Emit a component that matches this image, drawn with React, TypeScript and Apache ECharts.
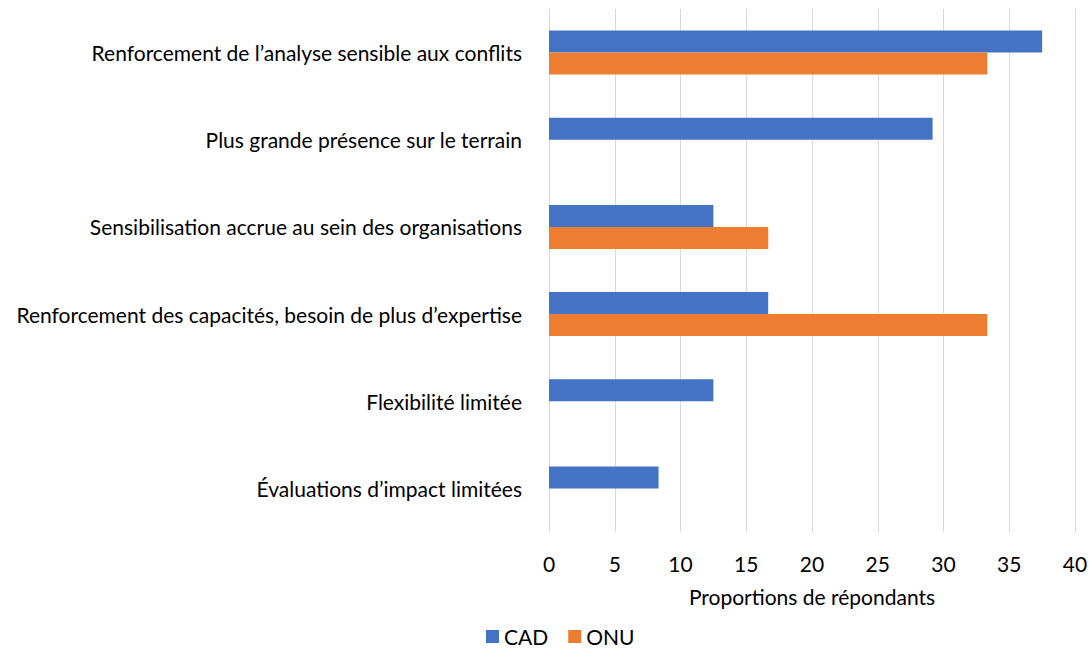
import React, { useEffect, useRef } from "react";
import * as echarts from "echarts";

const categories = [
  "Renforcement de l’analyse sensible aux conflits",
  "Plus grande présence sur le terrain",
  "Sensibilisation accrue au sein des organisations",
  "Renforcement des capacités, besoin de plus d’expertise",
  "Flexibilité limitée",
  "Évaluations d’impact limitées",
];
const cadValues = [37.5, 29.17, 12.5, 16.67, 12.5, 8.33];
const onuValues: (number | null)[] = [33.33, null, 16.67, 33.33, null, null];
const xTicks = { min: 0, max: 40, interval: 5 };

export default function App() {
  const ref = useRef<HTMLDivElement>(null);
  useEffect(() => {
    if (!ref.current) return;
    const chart = echarts.init(ref.current, undefined, { renderer: "svg" });
    const font = "Lato";
    const fs = 21;
    chart.setOption({
      animation: false,
      textStyle: { fontFamily: font },
      grid: { left: 549, right: 16, top: 9, bottom: 133, containLabel: false },
      legend: {
        bottom: 13,
        left: 481,
        icon: "rect",
        itemWidth: 13,
        itemHeight: 13,
        itemGap: 20,
        textStyle: { fontSize: fs, color: "#000", fontFamily: font },
        data: ["CAD", "ONU"],
      },
      xAxis: {
        type: "value",
        min: xTicks.min,
        max: xTicks.max,
        interval: xTicks.interval,
        name: "Proportions de répondants",
        nameLocation: "middle",
        nameGap: 54,
        nameTextStyle: { fontSize: fs, color: "#000", fontFamily: font },
        axisLine: { show: false },
        axisTick: { show: false },
        axisLabel: { fontSize: fs, color: "#000", margin: 21, fontFamily: font },
        splitLine: { show: true, lineStyle: { color: "#d9d9d9", width: 1 } },
      },
      yAxis: {
        type: "category",
        data: categories,
        inverse: true,
        axisLine: { show: false },
        axisTick: { show: false },
        axisLabel: { fontSize: fs, color: "#000", margin: 27, fontFamily: font },
      },
      series: [
        {
          name: "CAD",
          type: "bar",
          data: cadValues,
          barWidth: 22,
          barGap: "0%",
          itemStyle: { color: "#4472C4" },
        },
        {
          name: "ONU",
          type: "bar",
          data: onuValues,
          barWidth: 22,
          barGap: "0%",
          itemStyle: { color: "#ED7D31" },
        },
      ],
    });
    return () => chart.dispose();
  }, []);
  return (
    <div
      ref={ref}
      style={{ position: "absolute", left: 0, top: 0, width: 1091, height: 665 }}
    />
  );
}
